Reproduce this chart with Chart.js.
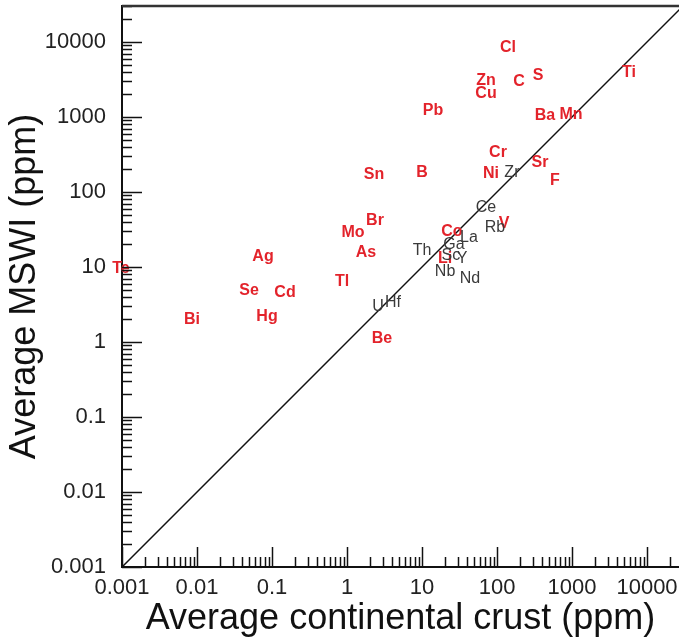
<!DOCTYPE html>
<html>
<head>
<meta charset="utf-8">
<script src="https://cdn.jsdelivr.net/npm/chart.js@4"></script>
<style>
  html, body { margin: 0; padding: 0; background: #fff; }
  #wrap { width: 679px; height: 644px; }
</style>
</head>
<body>
<div id="wrap"><canvas id="chart" width="679" height="644"></canvas></div>
<script>
// elements enriched in MSWI (red, bold)
const redLabels = ["Cl", "Zn", "Cu", "C", "S", "Ti", "Pb", "Ba", "Mn", "Cr", "Sr", "Ni", "F", "Sn", "B",
  "Br", "Mo", "As", "Ag", "Te", "Tl", "Se", "Cd", "Hg", "Bi", "Be", "Co", "Li", "V"];
const redCrust = [140, 71.3, 71.3, 196, 352, 5750, 14.0, 437, 970, 103, 374, 83.2, 593, 2.29, 10,
  2.36, 1.20, 1.79, 0.0759, 0.00097, 0.858, 0.0494, 0.149, 0.0858, 0.00858, 2.93, 25.1, 20.3, 124];
const redMswi = [8300, 3020, 2027, 2930, 3520, 3860, 1202, 1031, 1063, 331, 244, 174, 140, 169, 179,
  41.1, 28.4, 15.8, 13.6, 9.4, 6.3, 4.79, 4.5, 2.15, 1.97, 1.10, 29.3, 12.8, 37.4];

// other elements (black)
const blackLabels = ["Zr", "Ce", "Rb", "La", "Ga", "Th", "Sc", "Y", "Nb", "Nd", "U", "Hf"];
const blackCrust = [158, 71.3, 94, 42.3, 26.7, 10, 24.3, 34.2, 20.3, 43.7, 2.59, 4.1];
const blackMswi = [179, 61.2, 33.1, 24.3, 19.7, 16.3, 14.0, 12.8, 8.8, 7.1, 2.93, 3.31];

const tickValues = [0.001, 0.01, 0.1, 1, 10, 100, 1000, 10000];
const tickText = ["0.001", "0.01", "0.1", "1", "10", "100", "1000", "10000"];
const oneToOne = [0.001, 30000];

const axisFont = { family: "'Liberation Sans', Arial, sans-serif", size: 22 };
const titleFont = { family: "'Liberation Sans', Arial, sans-serif", size: 36 };

function toPoints(xs, ys) {
  return xs.map((x, i) => ({ x: x, y: ys[i] }));
}

// element symbols drawn at the data points
const textLabels = {
  id: "textLabels",
  afterDatasetsDraw(chart) {
    const ctx = chart.ctx;
    chart.data.datasets.forEach((ds, i) => {
      if (!ds.labels) return;
      const meta = chart.getDatasetMeta(i);
      ctx.save();
      ctx.font = ds.labelFont;
      ctx.fillStyle = ds.labelColor;
      ctx.textAlign = "center";
      ctx.textBaseline = "middle";
      meta.data.forEach((pt, j) => {
        ctx.fillText(ds.labels[j], pt.x, pt.y);
      });
      ctx.restore();
    });
  }
};

// inward log ticks + top frame line
const logTicks = {
  id: "logTicks",
  afterDraw(chart) {
    const ctx = chart.ctx;
    const area = chart.chartArea;
    const xs = chart.scales.x, ys = chart.scales.y;
    ctx.save();
    ctx.strokeStyle = "#111";
    ctx.lineWidth = 1.5;
    for (let d = -3; d <= 4; d++) {
      for (let k = 1; k <= 9; k++) {
        const v = k * Math.pow(10, d);
        const len = k === 1 ? 20 : 10;
        if (v <= xs.max) {
          const px = Math.round(xs.getPixelForValue(v)) + 0.5;
          ctx.beginPath();
          ctx.moveTo(px, area.bottom);
          ctx.lineTo(px, area.bottom - len);
          ctx.stroke();
        }
        if (v <= ys.max) {
          const py = Math.round(ys.getPixelForValue(v)) + 0.5;
          ctx.beginPath();
          ctx.moveTo(area.left, py);
          ctx.lineTo(area.left + len, py);
          ctx.stroke();
        }
      }
    }
    ctx.strokeStyle = "#333";
    ctx.lineWidth = 2.5;
    ctx.beginPath();
    ctx.moveTo(area.left, area.top);
    ctx.lineTo(area.right, area.top);
    ctx.stroke();
    ctx.restore();
  }
};

const data = {
  datasets: [
    {
      type: "line",
      data: toPoints(oneToOne, oneToOne),
      borderColor: "#111",
      borderWidth: 1.5,
      pointRadius: 0,
    },
    {
      type: "scatter",
      data: toPoints(redCrust, redMswi),
      labels: redLabels,
      labelFont: "bold 16px 'Liberation Sans', Arial, sans-serif",
      labelColor: "#e3232b",
      pointRadius: 0,
    },
    {
      type: "scatter",
      data: toPoints(blackCrust, blackMswi),
      labels: blackLabels,
      labelFont: "16px 'Liberation Sans', Arial, sans-serif",
      labelColor: "#3a3a3a",
      pointRadius: 0,
    },
  ],
};

const config = {
  type: "scatter",
  data: data,
  options: {
    responsive: false,
    animation: false,
    layout: { padding: { top: 6, right: 0, left: 0, bottom: 0 }, autoPadding: false },
    plugins: {
      legend: { display: false },
      tooltip: { enabled: false },
    },
    scales: {
      x: {
        type: "logarithmic",
        min: 0.001,
        max: 26700,
        grid: { display: false },
        border: { display: true, color: "#111", width: 2 },
        afterBuildTicks: (scale) => { scale.ticks = tickValues.map((v) => ({ value: v })); },
        afterFit: (scale) => {
          scale.height = 77;
          scale.paddingLeft = 0;
          scale.paddingRight = 0;
        },
        ticks: {
          autoSkip: false,
          maxRotation: 0,
          padding: 0,
          color: "#222",
          font: axisFont,
          callback: (v) => tickText[tickValues.indexOf(v)],
        },
        title: {
          display: true,
          text: "Average continental crust (ppm)",
          color: "#111",
          font: titleFont,
          padding: { top: 0, bottom: 3 },
        },
      },
      y: {
        type: "logarithmic",
        min: 0.001,
        max: 30200,
        grid: { display: false },
        border: { display: true, color: "#111", width: 2 },
        afterBuildTicks: (scale) => { scale.ticks = tickValues.map((v) => ({ value: v })); },
        afterFit: (scale) => {
          scale.width = 122;
          scale.paddingTop = 0;
          scale.paddingBottom = 0;
        },
        ticks: {
          autoSkip: false,
          padding: 8,
          color: "#222",
          font: axisFont,
          callback: (v) => tickText[tickValues.indexOf(v)],
        },
        title: {
          display: true,
          text: "Average MSWI (ppm)",
          color: "#111",
          font: titleFont,
          padding: { top: 3, bottom: 0 },
        },
      },
    },
  },
  plugins: [textLabels, logTicks],
};

new Chart(document.getElementById("chart"), config);
</script>
</body>
</html>
